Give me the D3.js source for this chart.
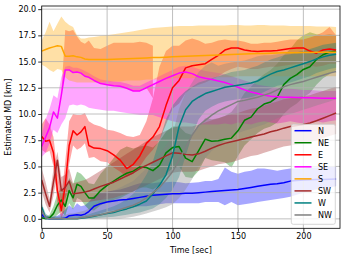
<!DOCTYPE html>
<html>
<head>
<meta charset="utf-8">
<script src="https://cdnjs.cloudflare.com/ajax/libs/d3/7.8.5/d3.min.js"></script>
<style>body{margin:0;overflow:hidden;background:#fff}</style>
</head>
<body>
<script>
// time samples (sec)
const times = [0,3,6,9,12,15,18,21,24,27,30,33,36,
  40,45,50,55,60,65,70,75,80,85,
  90,95,100,105,110,115,120,125,130,135,
  140,145,150,155,160,165,170,175,180,185,
  190,195,200,205,210,215,220,225];

const directions = ["N","NE","E","SE","S","SW","W","NW"];
const colors = ["#0000ff","#008000","#ff0000","#ff00ff","#ffa500","#a52a2a","#008080","#808080"];

const nMean = [0.4,0.05,0,0,0,0,0.05,0.3,0.35,0.4,0.35,0.45,0.7, 1.2,1.45,1.6,1.7,1.8,1.85,1.95,2.05,2.15,2.25, 2.3,2.35,2.4,2.4,2.45,2.45,2.5,2.55,2.6,2.65, 2.7,2.75,2.8,2.9,3.0,3.1,3.2,3.3,3.35,3.45, 3.6,3.65,3.7,3.72,3.75,3.75,3.78,3.8];
const nLo = [0,0,0,0,0,0,0,0,0,0,0,0,0.1, 0.3,0.5,0.7,0.8,0.9,1.0,1.1,1.2,1.2,1.3, 1.4,1.5,1.5,1.5,1.5,1.5,1.5,1.6,1.6,1.6, 1.3,1.6,1.3,1.4,1.5,1.6,1.7,1.8,1.9,2.0, 2.1,2.3,2.5,2.7,2.8,2.9,3.0,3.1];
const nHi = [0.9,0.3,0.2,0.2,0.3,0.5,0.9,1.3,1.0,1.5,1.2,1.3,1.6, 2.2,2.5,2.6,2.7,2.8,3.0,3.2,3.4,3.4,3.4, 3.5,3.5,3.55,3.5,3.4,3.45,3.5,3.6,3.6,3.8, 4.9,4.5,4.3,4.5,4.6,4.8,4.8,4.7,4.6,4.7, 4.8,4.8,4.8,4.9,4.9,5.0,5.0,5.0];

const neMean = [0.1,0,0.1,0.5,1.3,1.8,1.2,2.7,2.0,3.3,3.1,2.5,2.0, 2.0,2.7,3.2,3.6,4.0,4.35,4.55,4.95,4.9,4.6, 5.1,6.3,6.8,6.9,5.8,5.45,6.5,7.6,7.4,7.45, 7.6,7.7,8.4,9.4,9.7,10.5,10.95,11.15,11.6,12.8, 13.4,13.75,14.25,14.5,15.2,15.65,15.9,16.0];
const neLo = [0,0,0,0,0.4,0.7,0.3,1.5,0.9,2.0,1.8,1.3,0.9, 0.8,1.3,1.6,1.8,2.0,2.3,2.6,3.0,3.0,2.8, 3.2,4.3,4.8,5.0,4.0,3.9,4.6,5.8,5.6,5.5, 5.4,4.9,6.0,7.0,7.6,8.2,8.6,8.8,9.2,10.0, 10.6,11.0,11.6,12.0,12.8,13.4,13.8,14.2];
const neHi = [0.3,0.2,0.4,1.2,2.4,3.0,2.4,3.9,3.3,4.5,4.3,3.9,3.4, 3.3,4.3,5.0,5.8,6.6,6.9,6.7,6.9,7.0,6.8, 7.4,8.3,8.8,8.8,8.2,8.0,8.8,9.6,9.5,9.6, 9.8,10.2,11.0,12.0,12.6,13.3,13.8,14.2,14.8,15.6, 16.2,17.0,17.5,17.8,17.6,17.5,17.6,17.5];

const eMean = [7.85,7.4,7.5,6.3,2.7,0.8,3.2,7.0,8.4,8.0,8.3,8.8,7.0, 6.75,6.7,6.5,6.1,5.6,4.8,5.2,6.0,7.2,7.8, 8.8,10.8,12.5,13.2,14.4,14.6,14.7,14.8,15.2,15.6, 16.1,16.3,16.3,16.1,16.0,15.95,16.0,16.0,16.05,16.15, 16.25,16.3,16.3,16.0,15.8,16.1,16.2,16.1];
const eLo = [6.6,6.3,6.5,5.0,1.5,0,1.0,5.2,7.0,6.6,6.8,7.2,5.8, 5.9,5.5,5.4,4.9,4.5,4.0,4.3,5.0,5.9,6.6, 7.5,9.0,10.5,11.0,12.0,12.5,12.8,13.0,13.3,13.6, 14.0,14.3,14.5,14.4,14.3,14.3,14.4,14.5,14.5,14.6, 14.7,14.8,14.8,14.6,14.5,14.6,14.8,14.8];
const eHi = [9.0,9.6,9.0,7.8,4.5,2.0,5.5,9.3,10.0,9.9,9.9,10.1,9.3, 9.0,8.8,8.5,8.4,8.2,7.9,7.8,8.0,9.3,11.5, 14.5,16.0,16.5,16.5,17.0,17.2,17.0,16.7,16.8,17.0, 17.1,17.0,17.0,16.9,16.7,16.7,16.8,16.8,16.9,17.0, 17.1,17.1,17.1,17.3,17.5,17.8,18.3,17.5];
// second (upper) part of the E spread, t = 15..85
const eUpperLo = [null,null,null,null,null,12.0,14.2,14.2,13.95,14.0,13.9,13.6,13.5, 13.2,12.9,12.8,12.7,12.65,12.45,12.2,12.2,12.5,11.5, null,null,null,null,null,null,null,null,null,null, null,null,null,null,null,null,null,null,null,null, null,null,null,null,null,null,null,null];
const eUpperHi = [null,null,null,null,null,12.0,18.0,17.9,18.0,17.4,16.9,16.7,17.0, 16.3,16.2,16.5,16.8,16.8,16.8,16.8,16.9,16.8,16.5, null,null,null,null,null,null,null,null,null,null, null,null,null,null,null,null,null,null,null,null, null,null,null,null,null,null,null,null];

const seMean = [6.9,7.8,8.7,10.2,9.6,11.8,14.2,14.2,13.95,14.0,13.9,13.6,13.5, 13.2,12.9,12.8,12.7,12.65,12.45,12.2,12.2,12.5,12.8, 13.1,13.4,13.65,13.9,14.0,13.85,13.55,13.4,13.3,13.15, 13.0,12.8,12.55,12.3,12.1,11.95,11.8,11.7,11.65,11.6, 11.6,11.58,11.55,11.55,11.52,11.5,11.5,11.5];
const seLo = [5.9,6.3,7.2,8.5,8.2,9.0,9.6,10.8,10.9,10.8,10.9,10.8,10.6, 10.5,10.4,10.3,10.3,10.2,10.1,10.0,9.9,9.9,9.9, 9.7,9.5,9.3,9.2,9.2,9.1,9.0,9.0,9.0,9.0, 9.1,9.0,9.2,9.1,9.0,9.2,9.3,9.2,9.1,9.2, 9.3,9.2,9.1,9.2,9.3,9.2,9.3,9.4];
const seHi = [8.0,9.5,10.5,11.8,11.5,13.5,14.5,14.6,14.4,14.4,14.3,14.1,13.9, 13.6,13.3,13.2,13.1,13.05,12.9,12.7,12.7,13.0,13.3, 13.6,13.9,14.2,14.5,14.6,14.5,14.3,14.1,14.0,13.9, 13.8,13.6,13.4,13.2,13.0,12.8,12.7,12.6,12.5,12.4, 12.4,12.35,12.3,12.3,12.25,12.2,12.2,12.2];

const sMean = [16.0,16.15,16.3,16.4,16.5,16.45,15.5,15.5,15.55,15.45,15.4,15.25,15.2, 15.2,15.2,15.2,15.22,15.25,15.28,15.3,15.32,15.35,15.38, 15.4,15.42,15.45,15.48,15.5,15.52,15.55,15.58,15.6,15.62, 15.65,15.68,15.7,15.72,15.74,15.76,15.78,15.8,15.82,15.83, 15.84,15.85,15.86,15.87,15.88,15.89,15.9,15.9];
const sLo = [14.7,14.5,14.2,14.0,14.3,14.2,13.5,13.2,13.1,13.0,13.0,13.0,13.0, 13.0,13.0,13.1,13.1,13.1,13.2,13.2,13.2,13.3,13.3, 13.3,13.3,13.4,13.4,13.4,13.4,13.5,13.5,13.5,13.5, 13.5,13.5,13.6,13.6,13.6,13.6,13.6,13.6,13.6,13.6, 13.6,13.6,13.6,13.6,13.6,13.6,13.6,13.6];
const sHi = [17.0,17.8,18.8,17.9,18.6,19.3,18.8,18.5,18.3,17.5,17.2,17.2,17.3, 17.35,17.45,17.5,17.6,17.7,17.8,17.9,18.0,18.1,18.2, 18.25,18.3,18.35,18.4,18.4,18.4,18.45,18.45,18.45,18.45, 18.45,18.5,18.5,18.45,18.45,18.5,18.5,18.45,18.45,18.45, 18.4,18.4,18.4,18.4,18.35,18.35,18.35,18.3];

const swMean = [3.7,2.4,1.2,3.5,5.6,2.7,3.0,3.6,2.4,2.45,2.5,2.55,2.65, 2.85,3.1,3.3,3.5,3.8,4.1,4.4,4.8,5.1,5.4, 5.7,6.0,6.3,6.25,6.15,6.1,6.2,6.45,6.75,7.0, 7.2,7.35,7.5,7.65,7.8,7.95,8.1,8.3,8.45,8.65, 8.8,8.9,9.0,9.15,9.35,9.6,9.85,10.1];
const swLo = [2.6,1.4,0.6,2.2,4.5,1.5,2.0,2.6,1.6,1.6,1.6,1.6,1.6, 1.7,1.8,1.9,2.0,2.2,2.4,2.6,2.9,3.2,3.5, 3.8,4.1,4.4,4.5,4.5,4.5,4.6,4.8,5.0,5.2, 5.3,5.4,5.6,5.8,6.0,6.1,6.3,6.5,6.7,6.9, 7.0,7.1,7.2,7.3,7.5,7.7,7.9,8.1];
const swHi = [4.8,3.5,1.9,4.8,6.4,4.0,4.2,4.8,3.4,3.5,3.6,3.7,3.9, 4.2,4.6,5.0,5.4,5.8,6.2,6.6,7.0,7.4,7.8, 8.1,8.4,8.7,8.8,8.8,8.8,9.0,9.2,9.4,9.6, 9.8,10.0,10.1,10.3,10.5,10.6,10.8,11.0,11.2,11.4, 11.5,11.6,11.7,11.8,12.0,12.2,12.4,12.6];

const wMean = [1.1,0.05,0,0,0,0,0,0,0,0,0.05,0.1,0.15, 0.25,0.4,0.5,0.6,0.8,0.95,1.15,1.4,1.7,2.4, 3.2,4.2,6.0,8.8,10.4,11.2,11.6,11.95,12.15,12.35, 12.55,12.65,12.75,12.85,12.95,13.15,13.5,13.8,14.05,14.2, 14.4,14.6,14.8,15.0,15.25,15.45,15.6,15.7];
const wLo = [0.6,0,0,0,0,0,0,0,0,0,0,0,0, 0,0.1,0.15,0.2,0.3,0.4,0.5,0.6,0.8,1.0, 1.4,2.0,2.8,4.0,6.0,8.0,9.5,10.3,10.7,11.0, 11.2,11.3,11.4,11.5,11.6,11.8,12.1,12.4,12.7,12.8, 13.0,13.2,13.4,13.6,13.9,14.1,14.3,14.4];
const wHi = [1.5,0.5,0.2,0.2,0.2,0.2,0.2,0.2,0.25,0.25,0.3,0.35,0.45, 0.6,0.8,1.0,1.2,1.5,1.9,2.4,3.2,4.2,5.5, 7.5,9.5,10.8,11.6,12.2,12.6,13.0,13.2,13.4,13.6, 13.8,14.0,14.1,14.2,14.4,14.6,14.9,15.2,15.4,15.6, 15.7,15.9,16.0,16.2,16.4,16.6,16.7,16.8];

const nwMean = [0.8,0.1,0,0,0,0,0,0,0,0,0.1,0.15,0.2, 0.3,0.4,0.55,0.7,0.9,1.1,1.3,1.6,2.0,2.5, 3.0,3.7,4.5,5.6,6.8,8.0,8.9,9.4,9.9,10.3, 10.6,10.9,11.2,11.3,11.45,11.6,11.8,12.0,12.3,12.6, 12.8,12.95,13.1,13.3,13.5,13.7,13.9,14.05];
const nwLo = [0.3,0,0,0,0,0,0,0,0,0,0,0,0, 0,0,0,0,0,0.1,0.2,0.35,0.5,0.7, 0.9,1.1,1.4,2.0,2.8,3.8,5.0,5.8,6.5,7.0, 7.5,7.9,8.2,8.4,8.6,8.8,9.0,9.3,9.6,9.8, 10.0,10.2,10.4,10.6,10.8,11.0,11.2,11.4];
const nwHi = [1.3,0.4,0.2,0.2,0.2,0.3,0.4,0.5,0.5,0.6,0.7,0.8,1.0, 1.3,1.8,2.3,2.7,3.0,3.3,3.6,4.2,4.8,5.5, 6.2,7.0,8.0,10.5,12.0,13.0,14.0,14.6,14.9,14.6, 14.8,14.9,15.0,15.1,15.3,15.5,15.6,15.6,15.7,15.8, 15.9,15.9,16.0,16.1,16.2,16.3,16.3,16.4];

const xTicks = [0,50,100,150,200];
const yTicks = [0,2.5,5,7.5,10,12.5,15,17.5,20];

const means = [nMean,neMean,eMean,seMean,sMean,swMean,wMean,nwMean];
const lows = [nLo,neLo,eLo,seLo,sLo,swLo,wLo,nwLo];
const highs = [nHi,neHi,eHi,seHi,sHi,swHi,wHi,nwHi];

const width = 346, height = 260;
const plotLeft = 41.7, plotRight = 340, plotTop = 6, plotBottom = 228.3;

const body = d3.select("body");
const svg = body.append("svg").attr("width",width).attr("height",height)
  .style("font-family","'DejaVu Sans', sans-serif");

const x = d3.scaleLinear().domain([0,228]).range([plotLeft,plotRight]);
const y = d3.scaleLinear().domain([-0.9,20.3]).range([plotBottom,plotTop]);

svg.append("defs").append("clipPath").attr("id","plot")
  .append("rect").attr("x",plotLeft).attr("y",plotTop)
  .attr("width",plotRight-plotLeft).attr("height",plotBottom-plotTop);

const plot = svg.append("g").attr("clip-path","url(#plot)");

const band = (lo,hi) => d3.area()
  .defined((d,i)=>lo[i]!==null && hi[i]!==null)
  .x((d,i)=>x(times[i]))
  .y0((d,i)=>y(lo[i]))
  .y1((d,i)=>y(hi[i]));

// spread bands first
directions.forEach((name,k)=>{
  plot.append("path")
    .attr("d",band(lows[k],highs[k])(times))
    .attr("fill",colors[k]).attr("fill-opacity",0.35);
  if(name==="E"){
    plot.append("path")
      .attr("d",band(eUpperLo,eUpperHi)(times))
      .attr("fill",colors[k]).attr("fill-opacity",0.35);
  }
});

// grid
plot.selectAll(".gx").data(xTicks).enter().append("line")
  .attr("x1",d=>x(d)).attr("x2",d=>x(d)).attr("y1",plotTop).attr("y2",plotBottom)
  .attr("stroke","#b0b0b0").attr("stroke-width",0.8);
plot.selectAll(".gy").data(yTicks).enter().append("line")
  .attr("x1",plotLeft).attr("x2",plotRight).attr("y1",d=>y(d)).attr("y2",d=>y(d))
  .attr("stroke","#b0b0b0").attr("stroke-width",0.8);

// mean lines
directions.forEach((name,k)=>{
  const line = d3.line().x((d,i)=>x(times[i])).y((d,i)=>y(means[k][i]));
  plot.append("path").attr("d",line(times))
    .attr("fill","none").attr("stroke",colors[k]).attr("stroke-width",1.5)
    .attr("stroke-linejoin","round");
});

// axes
const xAxis = d3.axisBottom(x).tickValues(xTicks).tickSize(3.5).tickPadding(2).tickFormat(d3.format("d"));
const yAxis = d3.axisLeft(y).tickValues(yTicks).tickSize(3.5).tickPadding(2).tickFormat(d3.format(".1f"));

const gx = svg.append("g").attr("transform",`translate(0,${plotBottom})`).call(xAxis);
const gy = svg.append("g").attr("transform",`translate(${plotLeft},0)`).call(yAxis);
[gx,gy].forEach(g=>{
  g.select(".domain").remove();
  g.selectAll("text").attr("font-size",8).attr("fill","#000").attr("font-family","'DejaVu Sans', sans-serif");
  g.selectAll("line").attr("stroke","#000").attr("stroke-width",0.8);
});

svg.append("rect").attr("x",plotLeft).attr("y",plotTop)
  .attr("width",plotRight-plotLeft).attr("height",plotBottom-plotTop)
  .attr("fill","none").attr("stroke","#000").attr("stroke-width",0.8);

svg.append("text").attr("x",(plotLeft+plotRight)/2).attr("y",253)
  .attr("text-anchor","middle").attr("font-size",8).text("Time [sec]");
svg.append("text").attr("transform",`translate(11,${(plotTop+plotBottom)/2}) rotate(-90)`)
  .attr("text-anchor","middle").attr("font-size",8).text("Estimated MD [km]");

// legend
const legend = svg.append("g");
legend.append("rect").attr("x",291.3).attr("y",124.3).attr("width",44).attr("height",100)
  .attr("rx",2).attr("fill","#fff").attr("fill-opacity",0.8)
  .attr("stroke","#cccccc").attr("stroke-width",0.8);
const items = legend.selectAll(".item").data(directions).enter().append("g")
  .attr("transform",(d,i)=>`translate(0,${130.7+i*12.04})`);
items.append("line").attr("x1",294.5).attr("x2",311.5).attr("y1",0).attr("y2",0)
  .attr("stroke",(d,i)=>colors[i]).attr("stroke-width",1.5);
items.append("text").attr("x",318).attr("y",3).attr("font-size",8).text(d=>d);
</script>
</body>
</html>
